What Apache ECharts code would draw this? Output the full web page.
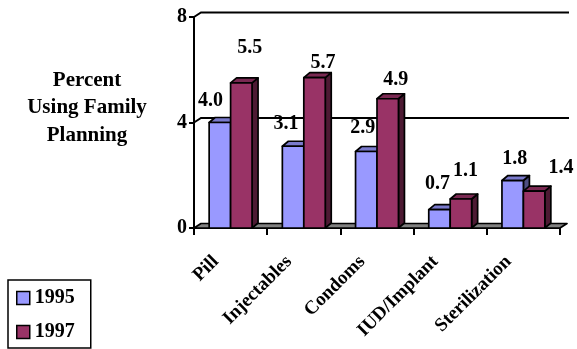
<!DOCTYPE html>
<html>
<head>
<meta charset="utf-8">
<script src="https://cdn.jsdelivr.net/npm/echarts@6/dist/echarts.min.js"></script>
<style>
  html, body { margin: 0; padding: 0; background: #fff; }
  #chart { width: 577px; height: 349px; }
</style>
</head>
<body>
<div id="chart"></div>
<script>
// Family planning methods, percent using, 1995 vs 1997
const categories = ['Pill', 'Injectables', 'Condoms', 'IUD/Implant', 'Sterilization'];
const values1995 = [4.0, 3.1, 2.9, 0.7, 1.8];
const values1997 = [5.5, 5.7, 4.9, 1.1, 1.4];
const yTickValues = [0, 4, 8];
const seriesNames = ['1995', '1997'];

// Value-label nudges in px, measured from the top-front centre of each column
const labelNudge1995 = [[-9.5, -22], [-7, -22], [-3.5, -24], [-2, -26], [2, -22]];
const labelNudge1997 = [[8.5, -35], [8.5, -15], [8, -19], [4.5, -28], [27, -23]];

const FONT = '"Liberation Serif", "Times New Roman", serif';
const DEPTH = [6, -5];     // column depth offset
const WALL = [7, -4.5];    // back wall offset
const BAR_FRACTION = 0.293;

const faces = [
  { front: '#9999FF', top: '#7a7acc', side: '#4d4d80' },
  { front: '#993366', top: '#7a2952', side: '#4d1a33' }
];
const edge = { stroke: '#000', lineWidth: 1.7, lineJoin: 'round' };

// Floor and back-wall gridlines
function wallRenderer(params, api) {
  const cs = params.coordSys;
  const left = cs.x, right = cs.x + cs.width;
  const [wx, wy] = WALL;
  const children = [];
  yTickValues.forEach(t => {
    if (t === 0) return;
    const y = api.coord([0, t])[1];
    children.push({
      type: 'polyline',
      shape: { points: [[left, y], [left + wx, y + wy], [right + wx + 2, y + wy]] },
      style: { stroke: '#000', lineWidth: 2, fill: null }
    });
  });
  const y0 = api.coord([0, 0])[1];
  children.push({
    type: 'polygon',
    shape: { points: [[left, y0], [right, y0], [right + wx, y0 + wy], [left + wx, y0 + wy]] },
    style: Object.assign({}, edge, { fill: '#808080' })
  });
  return { type: 'group', children };
}

function barRenderer(si, nudges) {
  return function (params, api) {
    const idx = api.value(0), v = api.value(1);
    const base = api.coord([idx, 0]);
    const top = api.coord([idx, v]);
    const bw = api.size([1, 0])[0] * BAR_FRACTION;
    const x0 = si === 0 ? base[0] - bw : base[0];
    const x1 = x0 + bw;
    const y0 = base[1], y1 = top[1];
    const [dx, dy] = DEPTH;
    const nd = nudges[params.dataIndex];
    return {
      type: 'group',
      children: [
        { type: 'polygon',
          shape: { points: [[x1, y0], [x1 + dx, y0 + dy], [x1 + dx, y1 + dy], [x1, y1]] },
          style: Object.assign({}, edge, { fill: faces[si].side }) },
        { type: 'polygon',
          shape: { points: [[x0, y1], [x1, y1], [x1 + dx, y1 + dy], [x0 + dx, y1 + dy]] },
          style: Object.assign({}, edge, { fill: faces[si].top }) },
        { type: 'rect',
          shape: { x: x0, y: y1, width: bw, height: y0 - y1 },
          style: Object.assign({}, edge, { fill: faces[si].front }) },
        { type: 'text',
          x: (x0 + x1) / 2 + nd[0], y: y1 + nd[1],
          style: { text: v.toFixed(1), fontFamily: FONT, fontWeight: 'bold', fontSize: 20,
                   fill: '#000', align: 'center', verticalAlign: 'middle' } }
      ]
    };
  };
}

const chart = echarts.init(document.getElementById('chart'), null, { renderer: 'canvas' });

chart.setOption({
  animation: false,
  backgroundColor: '#fff',
  grid: { left: 194, right: 17, top: 17, bottom: 121, containLabel: false },
  graphic: [{
    type: 'text', x: 87, y: 108,
    style: { text: 'Percent\nUsing Family\nPlanning', fontFamily: FONT, fontWeight: 'bold',
             fontSize: 21, lineHeight: 27.5, fill: '#000', align: 'center', verticalAlign: 'middle' }
  }],
  legend: {
    data: seriesNames,
    orient: 'vertical', left: 8, top: 280,
    borderColor: '#000', borderWidth: 1.5,
    padding: [8, 16, 6, 8], itemGap: 14,
    itemWidth: 13, itemHeight: 13, icon: 'rect',
    itemStyle: { borderColor: '#000', borderWidth: 1.5 },
    textStyle: { fontFamily: FONT, fontWeight: 'bold', fontSize: 20, color: '#000' }
  },
  xAxis: {
    type: 'category', data: categories,
    axisLine: { show: true, lineStyle: { color: '#000', width: 2 } },
    axisTick: { show: true, length: 7, lineStyle: { color: '#000', width: 2 } },
    axisLabel: { interval: 0, rotate: 45, margin: 16, padding: [0, 21, 0, 0],
                 fontFamily: FONT, fontWeight: 'bold', fontSize: 19, color: '#000' },
    splitLine: { show: false }
  },
  yAxis: {
    type: 'value', min: 0, max: 8, interval: 4,
    axisLine: { show: true, lineStyle: { color: '#000', width: 2 } },
    axisTick: { show: true, length: 5, lineStyle: { color: '#000', width: 2 } },
    axisLabel: { margin: 7, fontFamily: FONT, fontWeight: 'bold', fontSize: 20, color: '#000' },
    splitLine: { show: false }
  },
  series: [
    { type: 'custom', name: 'wall', renderItem: wallRenderer, data: [[0, 0]],
      encode: { x: 0, y: 1 }, clip: false, silent: true, z: 1 },
    { type: 'custom', name: seriesNames[0], renderItem: barRenderer(0, labelNudge1995),
      data: values1995.map((v, i) => [i, v]), encode: { x: 0, y: 1 }, clip: false, z: 2,
      itemStyle: { color: faces[0].front } },
    { type: 'custom', name: seriesNames[1], renderItem: barRenderer(1, labelNudge1997),
      data: values1997.map((v, i) => [i, v]), encode: { x: 0, y: 1 }, clip: false, z: 3,
      itemStyle: { color: faces[1].front } }
  ]
});
</script>
</body>
</html>
